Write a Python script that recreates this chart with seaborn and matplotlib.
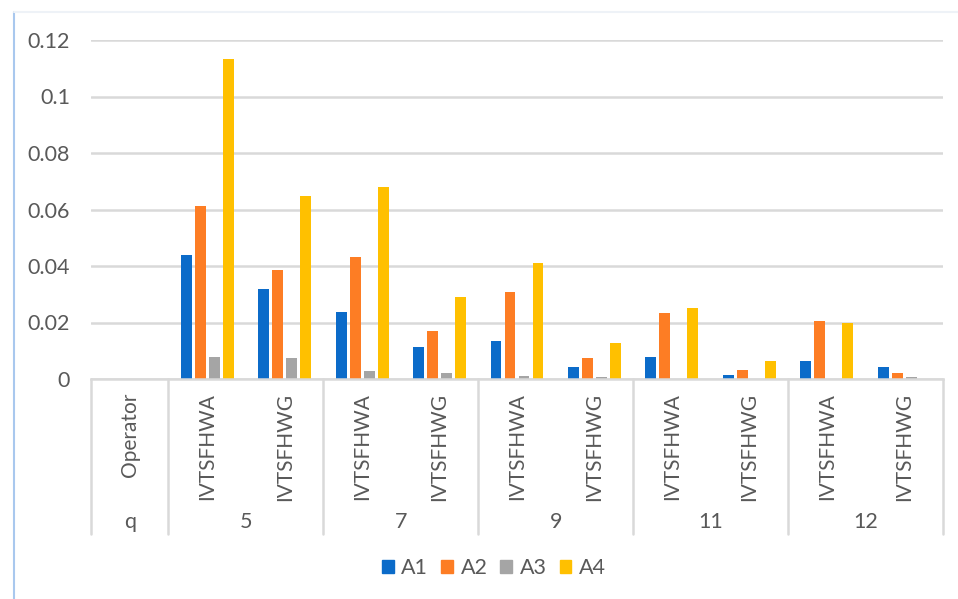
import matplotlib
matplotlib.use("Agg")
import matplotlib.pyplot as plt
import matplotlib.transforms as mtransforms
from matplotlib.lines import Line2D
import seaborn as sns
import pandas as pd
import numpy as np

# Category structure: q value -> aggregation operator
q_values = ["5", "7", "9", "11", "12"]
operators = ["IVTSFHWA", "IVTSFHWG"]
series = ["A1", "A2", "A3", "A4"]

# Scores per (q, operator) slot, in the order 5-WA, 5-WG, 7-WA, 7-WG, ...
a1 = [0.0439, 0.0317, 0.0238, 0.0112, 0.0133, 0.0041, 0.0078, 0.0015, 0.0062, 0.0041]
a2 = [0.0611, 0.0385, 0.0431, 0.0171, 0.0309, 0.0074, 0.0234, 0.0033, 0.0204, 0.0020]
a3 = [0.0078, 0.0073, 0.0028, 0.0020, 0.0012, 0.0007, 0.0, 0.0, 0.0, 0.0008]
a4 = [0.1133, 0.0649, 0.0679, 0.0289, 0.0409, 0.0129, 0.0250, 0.0062, 0.0197, 0.0]

colors = ["#0b6bc9", "#fd7d24", "#a5a5a5", "#ffc000"]
text_color = "#595959"
grid_color = "#d9d9d9"

slot_keys = [f"{q} {op}" for q in q_values for op in operators]
order = ["Operator"] + slot_keys

rows = []
for name, vals in zip(series, [a1, a2, a3, a4]):
    for key, v in zip(slot_keys, vals):
        rows.append({"slot": key, "series": name, "value": v})
df = pd.DataFrame(rows)

sns.set_theme(style="white")
plt.rcParams["font.family"] = ["Lato", "DejaVu Sans"]

fig = plt.figure(figsize=(9.58, 5.99), dpi=100)
W, H = 958, 599
ax = fig.add_axes([91 / W, 1 - 379 / H, (943 - 91) / W, (379 - 40) / H])

sns.barplot(data=df, x="slot", y="value", hue="series", order=order,
            hue_order=series, palette=colors, width=0.724, gap=0.22,
            linewidth=0, saturation=1, ax=ax, legend=False)

ax.set_xlim(-0.5, len(order) - 0.5)
ax.set_ylim(0, 0.12)
ax.set_yticks(np.arange(0, 0.121, 0.02))
ax.set_yticklabels(["0", "0.02", "0.04", "0.06", "0.08", "0.1", "0.12"])
ax.yaxis.grid(True, color=grid_color, linewidth=1.8)
ax.set_axisbelow(True)
ax.tick_params(axis="y", length=0, pad=15, labelsize=15.5, labelcolor=text_color)
ax.set_xticks([])
ax.set_xlabel("")
ax.set_ylabel("")
for side in ["top", "right", "left"]:
    ax.spines[side].set_visible(False)
ax.spines["bottom"].set_color(grid_color)
ax.spines["bottom"].set_linewidth(1.8)

# Multi-level category axis drawn below the plot
trans = mtransforms.blended_transform_factory(ax.transData, ax.transAxes)
row1_top = -(393 - 379) / (379 - 40)
row2_y = -(522 - 379) / (379 - 40)
line_bottom = -(534 - 379) / (379 - 40)

inner_labels = ["Operator"] + [op for q in q_values for op in operators]
for i, lab in enumerate(inner_labels):
    ax.text(i, row1_top, lab, transform=trans, rotation=90, ha="center",
            va="top", fontsize=15, color=text_color, clip_on=False)

ax.text(0, row2_y, "q", transform=trans, ha="center", va="center",
        fontsize=15.5, color=text_color, clip_on=False)
for j, q in enumerate(q_values):
    ax.text(1.5 + 2 * j, row2_y, q, transform=trans, ha="center", va="center",
            fontsize=15.5, color=text_color, clip_on=False)

for xb in [-0.5, 0.5, 2.5, 4.5, 6.5, 8.5, 10.5]:
    ax.add_line(Line2D([xb, xb], [0, line_bottom], transform=trans,
                       color=grid_color, linewidth=1.8, clip_on=False))

# Legend
handles = [plt.Rectangle((0, 0), 1, 1, color=c) for c in colors]
fig.legend(handles, series, loc="center", bbox_to_anchor=(494 / W, 1 - 568 / H),
           ncol=4, frameon=False, fontsize=15.5, handlelength=0.55,
           handleheight=0.55, handletextpad=0.35, columnspacing=0.6,
           labelcolor=text_color)

# Chart area border
fig.add_artist(Line2D([14 / W, 14 / W], [0, 1 - 12 / H], transform=fig.transFigure,
                      color="#a9c8ee", linewidth=1.5))
fig.add_artist(Line2D([14 / W, 1], [1 - 12 / H, 1 - 12 / H], transform=fig.transFigure,
                      color="#eef2f7", linewidth=1.5))

fig.savefig("out.png", dpi=100)
